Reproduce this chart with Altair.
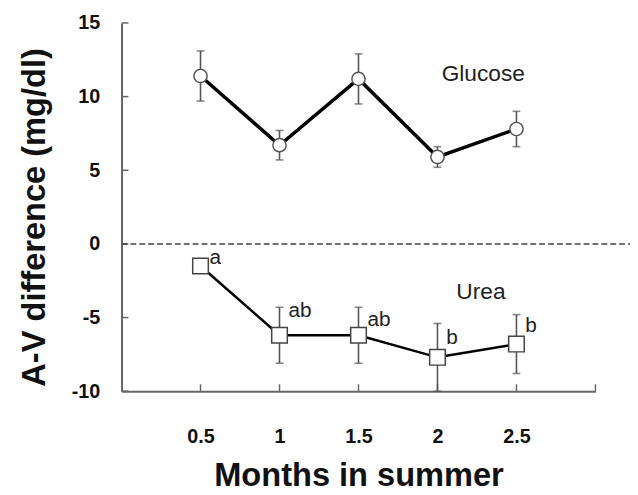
import altair as alt
import pandas as pd

# ---- data ----
months = [0.5, 1.0, 1.5, 2.0, 2.5]
glucose_mean = [11.4, 6.7, 11.2, 5.9, 7.8]
glucose_err = [1.7, 1.0, 1.7, 0.7, 1.2]
urea_mean = [-1.5, -6.2, -6.2, -7.7, -6.8]
urea_err = [0.3, 1.9, 1.9, 2.3, 2.0]
urea_letters = ["a", "ab", "ab", "b", "b"]
letter_y = [-0.95, -4.55, -5.15, -6.4, -5.55]
y_ticks = [-10, -5, 0, 5, 10, 15]
x_ticks = [0.5, 1, 1.5, 2, 2.5, 3]
series_names = ["Glucose", "Urea"]
series_label_x = [2.29, 2.275]
series_label_y = [11.5, -3.3]

W, H = 480, 373
FONT = "Liberation Sans"

gl = pd.DataFrame({"month": months, "mean": glucose_mean,
                   "lo": [m - e for m, e in zip(glucose_mean, glucose_err)],
                   "hi": [m + e for m, e in zip(glucose_mean, glucose_err)]})
ur = pd.DataFrame({"month": months, "mean": urea_mean,
                   "lo": [m - e for m, e in zip(urea_mean, urea_err)],
                   "hi": [m + e for m, e in zip(urea_mean, urea_err)],
                   "letter": urea_letters, "ly": letter_y})
lab = pd.DataFrame({"name": series_names, "x": series_label_x, "y": series_label_y})
yt = pd.DataFrame({"v": y_ticks})
xt = pd.DataFrame({"v": x_ticks})
zero = pd.DataFrame({"v": [0]})

xs = alt.Scale(domain=[0, 3], nice=False, zero=False)
ys = alt.Scale(domain=[-10, 15], nice=False, zero=False)

xaxis = alt.Axis(values=x_ticks, ticks=False, grid=False,
                 labelExpr="datum.value >= 3 ? '' : '' + datum.value",
                 domainColor="#666", domainWidth=2,
                 labelFont=FONT, labelFontSize=20, labelFontWeight="bold",
                 labelColor="#111", labelPadding=36,
                 title="Months in summer", titleFont=FONT, titleFontSize=33,
                 titleFontWeight="bold", titleColor="#111", titlePadding=14)
yaxis = alt.Axis(values=y_ticks, ticks=False, grid=False,
                 labelExpr="'' + datum.value",
                 domainColor="#666", domainWidth=2,
                 labelFont=FONT, labelFontSize=20, labelFontWeight="bold",
                 labelColor="#111", labelPadding=22,
                 title="A-V difference (mg/dl)", titleFont=FONT, titleFontSize=33,
                 titleFontWeight="bold", titleColor="#111", titlePadding=20,
                 titleY=H / 2 + 10)


def X(f):
    return alt.X(f, type="quantitative", scale=xs, axis=xaxis)


def Y(f):
    return alt.Y(f, type="quantitative", scale=ys, axis=yaxis)


layers = []

# inward ticks
layers.append(alt.Chart(yt).mark_rule(color="#666", strokeWidth=1.5).encode(
    y=Y("v"), x=alt.value(0), x2=alt.value(7)))
layers.append(alt.Chart(xt).mark_rule(color="#666", strokeWidth=1.5).encode(
    x=X("v"), y=alt.value(H), y2=alt.value(H - 7)))

# zero dashed line
layers.append(alt.Chart(zero).mark_rule(color="#444", strokeWidth=1.5, strokeDash=[6, 3]).encode(
    y=Y("v"), x=alt.value(0), x2=alt.value(W + 35)))

for df in (gl, ur):
    layers.append(alt.Chart(df).mark_rule(color="#555", strokeWidth=1.6).encode(
        x=X("month"), y=Y("lo"), y2="hi"))
    for f in ("lo", "hi"):
        layers.append(alt.Chart(df).mark_tick(orient="horizontal", color="#555",
                                              size=8, thickness=1.6).encode(
            x=X("month"), y=Y(f)))

layers.append(alt.Chart(gl).mark_line(color="#000", strokeWidth=3.5).encode(
    x=X("month"), y=Y("mean")))
layers.append(alt.Chart(ur).mark_line(color="#000", strokeWidth=2.5).encode(
    x=X("month"), y=Y("mean")))

layers.append(alt.Chart(gl).mark_point(shape="circle", filled=True, fill="white",
                                       stroke="#555", strokeWidth=1.5, size=180,
                                       opacity=1).encode(
    x=X("month"), y=Y("mean")))
layers.append(alt.Chart(ur).mark_point(shape="square", filled=True, fill="white",
                                       stroke="#444", strokeWidth=1.5, size=250,
                                       opacity=1).encode(
    x=X("month"), y=Y("mean")))

layers.append(alt.Chart(ur).mark_text(align="left", baseline="middle", dx=9,
                                      font=FONT, fontSize=21, color="#222").encode(
    x=X("month"), y=Y("ly"), text="letter:N"))
layers.append(alt.Chart(lab).mark_text(align="center", baseline="middle",
                                       font=FONT, fontSize=23, color="#222").encode(
    x=X("x"), y=Y("y"), text="name:N"))

chart = alt.layer(*layers).properties(
    width=W, height=H,
    autosize=alt.AutoSizeParams(type="none"),
    padding={"left": 115, "top": 12, "right": 35, "bottom": 102},
    background="white",
).configure_view(stroke=None)

chart.save("out.html", embed_options={"renderer": "svg", "actions": False})
